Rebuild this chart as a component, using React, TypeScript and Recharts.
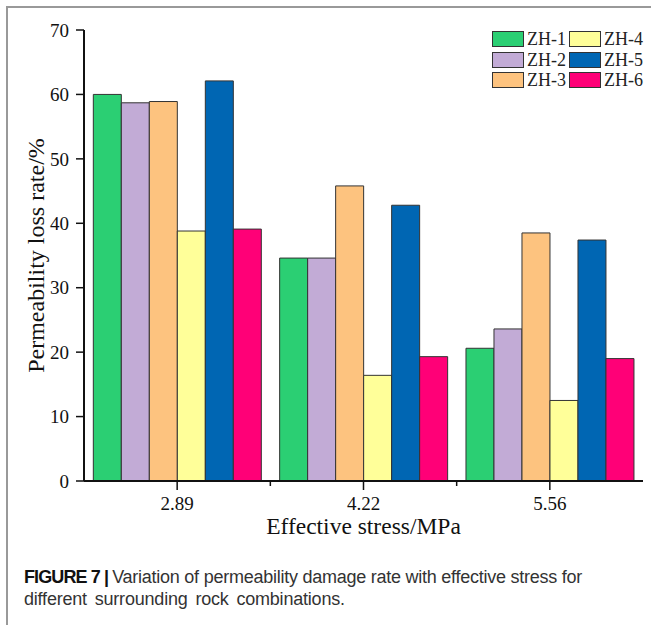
import { Bar, BarChart, Legend, XAxis, YAxis } from 'recharts';

const stressLevels = ['2.89', '4.22', '5.56'];
const zh1 = [60.0, 34.6, 20.6];
const zh2 = [58.7, 34.6, 23.6];
const zh3 = [58.9, 45.8, 38.5];
const zh4 = [38.8, 16.4, 12.5];
const zh5 = [62.1, 42.8, 37.4];
const zh6 = [39.1, 19.3, 19.0];
const yTicks = [0, 10, 20, 30, 40, 50, 60, 70];

const seriesNames = ['ZH-1', 'ZH-2', 'ZH-3', 'ZH-4', 'ZH-5', 'ZH-6'];
const seriesValues = [zh1, zh2, zh3, zh4, zh5, zh6];
const seriesColors = ['#2bcf73', '#c2abd6', '#fdc37f', '#ffff99', '#0066b3', '#ff0077'];

const rows = stressLevels.map((stress, i) => {
  const row: Record<string, string | number> = { stress };
  seriesNames.forEach((name, s) => {
    row[name] = seriesValues[s][i];
  });
  return row;
});

const SERIF = '"Liberation Serif", "Times New Roman", serif';

// category tick plus a short minor tick on the band boundary to the right
function StressTick(props: any) {
  const { x, y, payload, index, visibleTicksCount } = props;
  const half = payload?.offset ?? 93;
  return (
    <g>
      <text
        x={x}
        y={y + 5}
        dy="0.71em"
        textAnchor="middle"
        fontFamily={SERIF}
        fontSize={19}
        fill="#111"
      >
        {payload.value}
      </text>
      {index < visibleTicksCount - 1 && (
        <line x1={x + half} x2={x + half} y1={481} y2={486} stroke="#111" strokeWidth={1.5} />
      )}
    </g>
  );
}

function XTitle(props: any) {
  const { viewBox } = props;
  const cx = viewBox.x + viewBox.width / 2;
  return (
    <text
      x={cx}
      y={viewBox.y + 53}
      textAnchor="middle"
      fontFamily={SERIF}
      fontSize={23.5}
      fill="#111"
    >
      Effective stress/MPa
    </text>
  );
}

function YTitle(props: any) {
  const { viewBox } = props;
  const cx = viewBox.x + 12;
  const cy = viewBox.y + viewBox.height / 2;
  return (
    <text
      x={cx}
      y={cy}
      transform={`rotate(-90, ${cx}, ${cy})`}
      textAnchor="middle"
      dominantBaseline="central"
      fontFamily={SERIF}
      fontSize={24}
      fill="#111"
    >
      Permeability loss rate/%
    </text>
  );
}

function LegendBox() {
  const cols = [seriesNames.slice(0, 3), seriesNames.slice(3)];
  return (
    <div style={{ display: 'flex', gap: 3, fontFamily: SERIF, fontSize: 18, color: '#222' }}>
      {cols.map((col, c) => (
        <div key={c} style={{ display: 'flex', flexDirection: 'column', gap: 4.5 }}>
          {col.map((name) => (
            <div key={name} style={{ display: 'flex', alignItems: 'center', height: 16 }}>
              <span
                style={{
                  width: 30,
                  height: 14,
                  background: seriesColors[seriesNames.indexOf(name)],
                  border: '1.5px solid #333',
                  marginRight: 3,
                }}
              />
              <span style={{ lineHeight: '16px' }}>{name}</span>
            </div>
          ))}
        </div>
      ))}
    </div>
  );
}

export default function App() {
  return (
    <div
      style={{
        position: 'absolute',
        left: 0,
        top: 0,
        width: 651,
        height: 625,
        background: '#fff',
        overflow: 'hidden',
      }}
    >
      {/* figure frame: top and left rules */}
      <div style={{ position: 'absolute', left: 7, top: 6, right: 0, height: 1.5, background: '#999' }} />
      <div style={{ position: 'absolute', left: 6, top: 6, bottom: 0, width: 1.5, background: '#999' }} />

      <div style={{ position: 'absolute', left: 0, top: 0 }}>
        <BarChart
          width={651}
          height={560}
          data={rows}
          margin={{ top: 30, right: 8, bottom: 19, left: 24 }}
          barCategoryGap="5%"
          barGap={0}
        >
          <XAxis
            dataKey="stress"
            height={60}
            tickLine={{ stroke: '#111', strokeWidth: 1.5 }}
            tickSize={9}
            axisLine={{ stroke: '#111', strokeWidth: 2 }}
            tick={<StressTick />}
            label={<XTitle />}
          />
          <XAxis
            xAxisId="top"
            dataKey="stress"
            orientation="top"
            height={0}
            tick={false}
            tickLine={false}
            axisLine={{ stroke: '#aaa', strokeWidth: 1.5 }}
          />
          <YAxis
            width={60}
            domain={[0, 70]}
            ticks={yTicks}
            tickSize={8}
            tickMargin={7}
            tickLine={{ stroke: '#111', strokeWidth: 1.5 }}
            axisLine={{ stroke: '#111', strokeWidth: 2 }}
            tick={{ fontFamily: SERIF, fontSize: 19, fill: '#111' }}
            label={<YTitle />}
          />
          <YAxis
            yAxisId="right"
            orientation="right"
            width={0}
            domain={[0, 70]}
            tick={false}
            tickLine={false}
            axisLine={{ stroke: '#aaa', strokeWidth: 1.5 }}
          />
          <Legend
            layout="horizontal"
            verticalAlign="middle"
            align="center"
            wrapperStyle={{ top: 31, left: 492, width: 158, height: 60 }}
            content={() => <LegendBox />}
          />
          {seriesNames.map((name, s) => (
            <Bar
              key={name}
              dataKey={name}
              fill={seriesColors[s]}
              stroke="#333"
              strokeWidth={1}
              isAnimationActive={false}
            />
          ))}
        </BarChart>
      </div>

      <div
        style={{
          position: 'absolute',
          left: 24,
          top: 566,
          width: 627,
          fontFamily: '"Liberation Sans", Arial, sans-serif',
          fontSize: 18,
          lineHeight: '22px',
          color: '#333',
          letterSpacing: -0.25,
          whiteSpace: 'nowrap',
        }}
      >
        <span style={{ fontWeight: 700, color: '#111', letterSpacing: -0.9 }}>FIGURE 7 | </span>
        Variation of permeability damage rate with effective stress for
        <br />
        <span style={{ letterSpacing: -0.2, wordSpacing: 3 }}>different surrounding rock combinations.</span>
      </div>
    </div>
  );
}
